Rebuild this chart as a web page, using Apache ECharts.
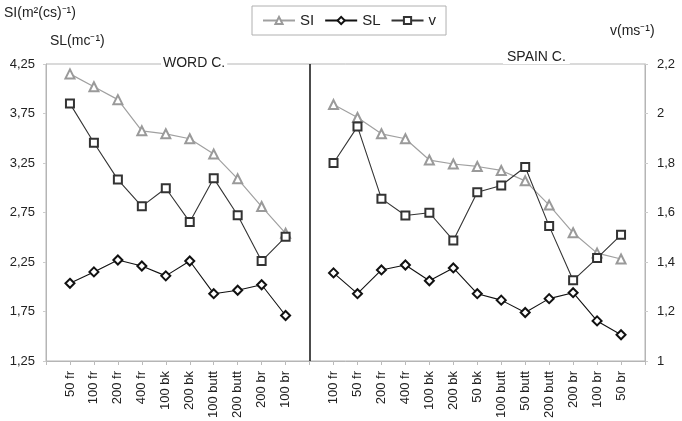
<!DOCTYPE html>
<html>
<head>
<meta charset="utf-8">
<script src="https://cdn.jsdelivr.net/npm/echarts@6/dist/echarts.min.js"></script>
<style>
  html, body { margin: 0; padding: 0; background: #fff; }
  #chart { width: 682px; height: 421px; }
</style>
</head>
<body>
<div id="chart"></div>
<script>
// categories for both panels (a blank slot sits at each edge and between the panels)
var wordCats = ['50 fr', '100 fr', '200 fr', '400 fr', '100 bk', '200 bk', '100 butt', '200 butt', '200 br', '100 br']
var spainCats = ['100 fr', '50 fr', '200 fr', '400 fr', '100 bk', '200 bk', '50 bk', '100 butt', '50 butt', '200 butt', '200 br', '100 br', '50 br']

// SI and SL on the left axis, v on the right axis
var wordSI = [4.15, 4.02, 3.89, 3.575, 3.545, 3.495, 3.34, 3.09, 2.81, 2.54]
var spainSI = [3.84, 3.71, 3.545, 3.495, 3.28, 3.24, 3.215, 3.175, 3.07, 2.825, 2.545, 2.34, 2.28]
var wordSL = [2.035, 2.15, 2.27, 2.21, 2.11, 2.26, 1.93, 1.965, 2.02, 1.71]
var spainSL = [2.14, 1.93, 2.17, 2.22, 2.06, 2.19, 1.93, 1.865, 1.74, 1.88, 1.94, 1.655, 1.515]
var wordV = [2.04, 1.882, 1.733, 1.625, 1.698, 1.562, 1.738, 1.589, 1.404, 1.502]
var spainV = [1.80, 1.947, 1.656, 1.588, 1.599, 1.487, 1.682, 1.709, 1.784, 1.545, 1.326, 1.416, 1.51]

var leftTicks = [1.25, 1.75, 2.25, 2.75, 3.25, 3.75, 4.25]
var rightTicks = [1, 1.2, 1.4, 1.6, 1.8, 2, 2.2]

var categories = [''].concat(wordCats, [''], spainCats, [''])
function join (a, b) {
  return [null].concat(a, [null], b, [null])
}
function comma (v) {
  return String(+v.toFixed(2)).replace('.', ',')
}

var chart = echarts.init(document.getElementById('chart'))
var font = 'Liberation Sans, Arial, sans-serif'
chart.setOption({
  textStyle: { fontFamily: font },
  animation: false,
  grid: {
    left: 46, right: 37, top: 64, bottom: 59,
    show: true, borderColor: '#b5b5b5', borderWidth: 1
  },
  legend: {
    left: 252, top: 6,
    itemWidth: 32, itemHeight: 9, itemGap: 10,
    padding: [7, 10],
    borderColor: '#b0b0b0', borderWidth: 1,
    textStyle: { fontSize: 15, color: '#222', fontFamily: font },
    data: ['SI', 'SL', 'v']
  },
  graphic: [
    { type: 'text', left: 4, top: 6, style: { text: 'SI(m²(cs)⁻¹)', fill: '#222', font: '14px ' + font } },
    { type: 'text', left: 50, top: 34, style: { text: 'SL(mc⁻¹)', fill: '#222', font: '14px ' + font } },
    { type: 'text', left: 610, top: 24, style: { text: 'v(ms⁻¹)', fill: '#222', font: '14px ' + font } },
    { type: 'text', left: 161, top: 56, style: { text: 'WORD C.', fill: '#222', font: '14px ' + font, backgroundColor: '#fff', padding: [0, 2] } },
    { type: 'text', left: 503, top: 50, style: { text: 'SPAIN C.', fill: '#222', font: '14px ' + font, backgroundColor: '#fff', padding: [0, 4] } }
  ],
  xAxis: {
    type: 'category',
    data: categories,
    boundaryGap: false,
    axisLine: { lineStyle: { color: '#b5b5b5' } },
    axisTick: { show: true, interval: 0, length: 4, lineStyle: { color: '#bbb' } },
    axisLabel: { interval: 0, rotate: 90, fontSize: 13, color: '#222', margin: 10 }
  },
  yAxis: [{
    type: 'value',
    min: 1.25, max: 4.25, interval: 0.25,
    splitLine: { show: false },
    axisLine: { show: true, lineStyle: { color: '#b5b5b5' } },
    axisTick: { show: true, length: 3, customValues: leftTicks, lineStyle: { color: '#ccc' } },
    axisLabel: { customValues: leftTicks, fontSize: 13, color: '#222', margin: 11, formatter: comma }
  }, {
    type: 'value',
    min: 1, max: 2.2, interval: 0.2,
    splitLine: { show: false },
    axisLine: { show: true, lineStyle: { color: '#b5b5b5' } },
    axisTick: { show: true, length: 3, lineStyle: { color: '#ccc' } },
    axisLabel: { fontSize: 13, color: '#222', margin: 12, formatter: comma }
  }],
  series: [{
    name: 'SI',
    type: 'line',
    data: join(wordSI, spainSI),
    symbol: 'emptyTriangle',
    symbolSize: 9,
    color: '#9a9a9a',
    lineStyle: { width: 1.2, color: '#a0a0a0' },
    itemStyle: { color: '#9a9a9a', borderWidth: 1 }
  }, {
    name: 'SL',
    type: 'line',
    data: join(wordSL, spainSL),
    symbol: 'emptyDiamond',
    symbolSize: 9,
    color: '#111',
    lineStyle: { width: 1.1, color: '#111' },
    itemStyle: { color: '#111', borderWidth: 1 },
    markLine: {
      silent: true,
      symbol: 'none',
      label: { show: false },
      lineStyle: { color: '#111', width: 1.5, type: 'solid' },
      data: [{ xAxis: 11 }]
    }
  }, {
    name: 'v',
    type: 'line',
    yAxisIndex: 1,
    data: join(wordV, spainV),
    symbol: 'emptyRect',
    symbolSize: 8,
    color: '#333',
    lineStyle: { width: 1.1, color: '#333' },
    itemStyle: { color: '#333', borderWidth: 1 }
  }]
})
</script>
</body>
</html>
